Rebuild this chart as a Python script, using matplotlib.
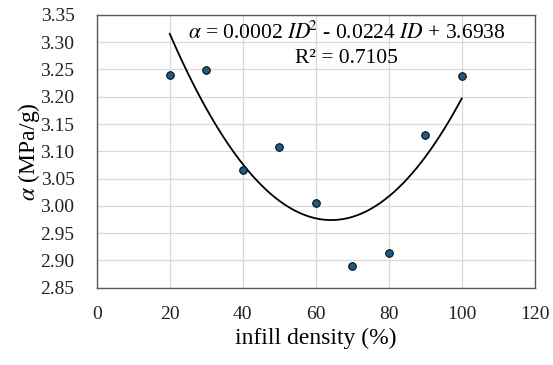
import numpy as np
import matplotlib
matplotlib.use('Agg')
import matplotlib.pyplot as plt

plt.rcParams['font.family'] = ['Liberation Serif', 'DejaVu Serif']
plt.rcParams['mathtext.fontset'] = 'stix'

# infill density (%) and alpha (MPa/g)
density = [20, 30, 40, 50, 60, 70, 80, 90, 100]
alpha = [3.240, 3.249, 3.066, 3.108, 3.006, 2.890, 2.913, 3.130, 3.238]

x_ticks = [0, 20, 40, 60, 80, 100, 120]
y_ticks = [2.85, 2.90, 2.95, 3.00, 3.05, 3.10, 3.15, 3.20, 3.25, 3.30, 3.35]

fig = plt.figure(figsize=(5.53, 3.65), dpi=100)
ax = fig.add_subplot(111)
fig.subplots_adjust(left=0.175, right=0.967, top=0.959, bottom=0.212)

# second order trend line
coef = np.polyfit(density, alpha, 2)
xs = np.linspace(min(density), max(density), 200)
ax.plot(xs, np.polyval(coef, xs), color='black', lw=1.3, zorder=2)

ax.scatter(density, alpha, s=30, color='#1f5a85', edgecolor='black', linewidth=0.7, zorder=3)

ax.set_xlim(0, 120)
ax.set_ylim(2.85, 3.35)
ax.set_xticks(x_ticks)
ax.set_yticks(y_ticks)
ax.set_yticklabels(['%.2f' % v for v in y_ticks])
ax.tick_params(length=0, labelsize=14, colors='#222222')
ax.tick_params(axis='y', pad=16)
ax.tick_params(axis='x', pad=13)
ax.grid(color='#d9d9d9', lw=0.9)
ax.set_axisbelow(True)
for s in ax.spines.values():
    s.set_color('#595959')
    s.set_linewidth(1.0)

ax.set_xlabel('infill density (%)', fontsize=17, labelpad=4)
ax.set_ylabel(r'$\alpha$ (MPa/g)', fontsize=17, labelpad=-1)

ax.text(68.5, 3.317, r'$\alpha$ = 0.0002 $ID^{\!\!2}$ - 0.0224 $ID$ + 3.6938',
        ha='center', va='center', fontsize=15.5)
ax.text(68.5, 3.271, 'R² = 0.7105', ha='center', va='center', fontsize=15.5)

fig.savefig('out.png', dpi=100)
